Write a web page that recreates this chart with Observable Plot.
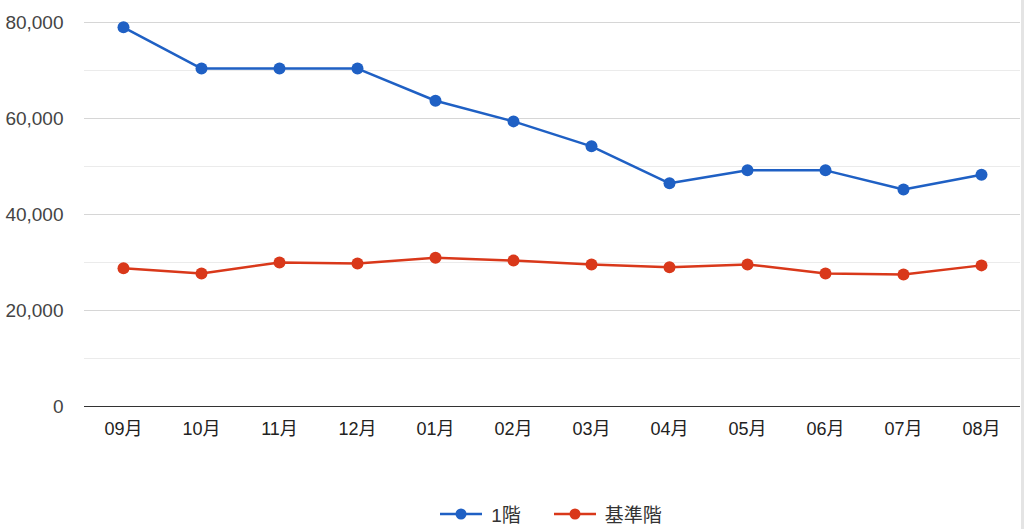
<!DOCTYPE html>
<html>
<head>
<meta charset="utf-8">
<script src="https://cdn.jsdelivr.net/npm/d3@7"></script>
<script src="https://cdn.jsdelivr.net/npm/@observablehq/plot@0.6"></script>
<style>
  body { margin: 0; background: #fff; font-family: "Liberation Sans", "Noto Sans CJK JP", sans-serif; overflow: hidden; }
  #legend { height: 59px; display: flex; justify-content: center; align-items: flex-start; padding-top: 30px; box-sizing: border-box; gap: 33px; font-size: 19px; color: #333; padding-left: 78px; }
  .item { display: flex; align-items: center; gap: 9px; }
  .item svg { display: block; }
  #edge { position: fixed; top: 0; right: 0; width: 3px; height: 100%; background: #e4e4e4; }
</style>
</head>
<body>
<div id="chart"></div>
<div id="legend"></div>
<div id="edge"></div>
<script>
const months = ["09月","10月","11月","12月","01月","02月","03月","04月","05月","06月","07月","08月"];
const floor1 = [79000, 70400, 70400, 70400, 63700, 59400, 54200, 46500, 49200, 49200, 45200, 48300];
const standardFloor = [28800, 27700, 30000, 29800, 31000, 30400, 29600, 29000, 29600, 27700, 27500, 29400];
const seriesNames = ["1階", "基準階"];
const seriesColors = ["#1f60c4", "#d9381a"];
const majorTicks = [0, 20000, 40000, 60000, 80000];
const minorTicks = [10000, 30000, 50000, 70000];

const data = [];
months.forEach((m, i) => {
  data.push({month: m, value: floor1[i], series: seriesNames[0]});
  data.push({month: m, value: standardFloor[i], series: seriesNames[1]});
});

const chart = Plot.plot({
  width: 1024,
  height: 470,
  marginLeft: 84,
  marginRight: 4,
  marginTop: 22,
  marginBottom: 64,
  style: {fontFamily: '"Liberation Sans", "Noto Sans CJK JP", sans-serif', background: "#fff"},
  x: {type: "point", domain: months, padding: 0.5, label: null},
  y: {domain: [0, 80000], label: null},
  color: {domain: seriesNames, range: seriesColors},
  marks: [
    Plot.ruleY(minorTicks, {stroke: "#ebebeb", strokeWidth: 1}),
    Plot.ruleY(majorTicks.filter(d => d > 0), {stroke: "#d6d6d6", strokeWidth: 1}),
    Plot.ruleY([0], {stroke: "#333", strokeWidth: 1.2}),
    Plot.axisY({ticks: majorTicks, tickSize: 0, tickPadding: 21, tickFormat: d3.format(","), fontSize: 19, fill: "#444"}),
    Plot.axisX({tickSize: 0, tickPadding: 16, fontSize: 18, fill: "#222"}),
    Plot.line(data, {x: "month", y: "value", z: "series", stroke: "series", strokeWidth: 2.5}),
    Plot.dot(data, {x: "month", y: "value", fill: "series", r: 6})
  ]
});
document.getElementById("chart").appendChild(chart);

const legend = document.getElementById("legend");
seriesNames.forEach((name, i) => {
  const item = document.createElement("div");
  item.className = "item";
  item.innerHTML = `<svg width="42" height="14"><line x1="0" y1="7" x2="42" y2="7" stroke="${seriesColors[i]}" stroke-width="2.5"/><circle cx="21" cy="7" r="5.5" fill="${seriesColors[i]}"/></svg><span>${name}</span>`;
  legend.appendChild(item);
});
</script>
</body>
</html>
